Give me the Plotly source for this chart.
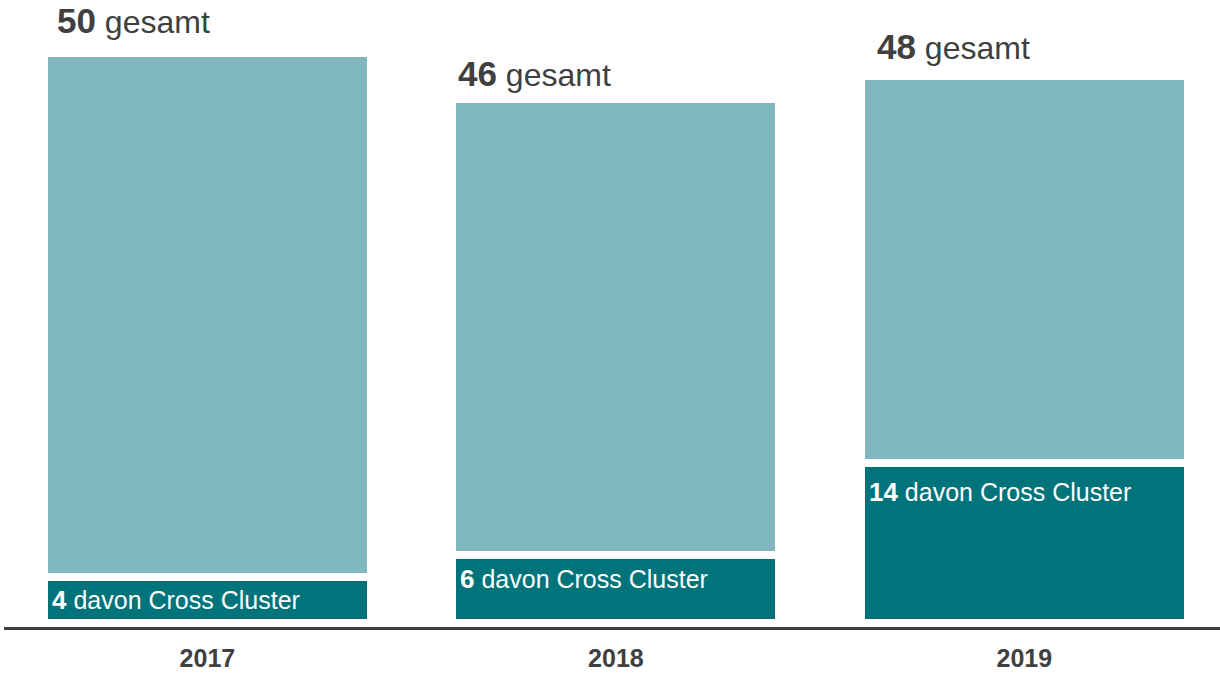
import plotly.graph_objects as go

years = ["2017", "2018", "2019"]
total = [50, 46, 48]
cross = [4, 6, 14]
rest = [t - c for t, c in zip(total, cross)]

# style-only offsets (pixels) for the labels
top_xshift = [7, 0, 10]
top_yshift = [11, 4, 8]
in_yshift = [-23, -24, -29]

LIGHT = "#80B8BD"
DARK = "#00737B"
TXT = "#404040"
FONT = "Liberation Sans, Arial, sans-serif"

fig = go.Figure()
fig.add_trace(go.Bar(x=years, y=cross, marker=dict(color=DARK, line=dict(color="white", width=8)),
                     width=0.8, hoverinfo="skip"))
fig.add_trace(go.Bar(x=years, y=rest, marker=dict(color=LIGHT, line=dict(color="white", width=8)),
                     width=0.8, hoverinfo="skip"))

for i, y in enumerate(years):
    fig.add_annotation(x=i, y=total[i], xref="x", yref="y",
                       text=f"<b><span style='font-size:35px'>{total[i]}</span></b> gesamt",
                       showarrow=False, xanchor="left", yanchor="bottom",
                       xshift=-163.5 + 4 + top_xshift[i], yshift=top_yshift[i],
                       font=dict(family=FONT, size=32, color=TXT))
    fig.add_annotation(x=i, y=cross[i], xref="x", yref="y",
                       text=f"<b><span style='font-size:26px'>{cross[i]}</span></b> davon Cross Cluster",
                       showarrow=False, xanchor="left", yanchor="middle",
                       xshift=-163.5 + 4 + 2, yshift=in_yshift[i],
                       font=dict(family=FONT, size=25, color="white"))

fig.update_layout(
    barmode="stack", showlegend=False,
    width=1220, height=674,
    margin=dict(l=4, r=0, t=10, b=47, autoexpand=False),
    plot_bgcolor="white", paper_bgcolor="white",
    bargap=0.2,
    font=dict(family=FONT, color=TXT),
)
fig.update_xaxes(type="category", range=[-0.498, 2.479], showline=True, linecolor=TXT, linewidth=3,
                 ticks="", showgrid=False, zeroline=False, ticklabelstandoff=7, automargin=False,
                 tickfont=dict(family=FONT, size=25, color=TXT, weight="bold"))
fig.update_yaxes(range=[-0.351, 53.77], visible=False, showgrid=False, zeroline=False, automargin=False)

fig.write_html("out.html", config={"displayModeBar": False},
               post_script="document.body.style.margin='0';document.body.style.overflow='hidden';")
